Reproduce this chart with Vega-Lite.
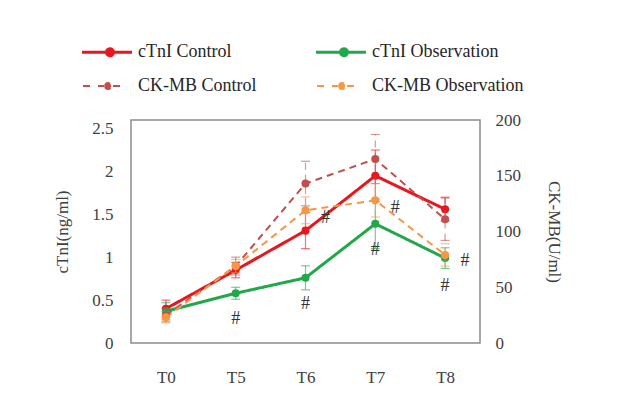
{
  "$schema": "https://vega.github.io/schema/vega-lite/v6.json",
  "width": 349,
  "height": 223,
  "autosize": {"type": "none"},
  "padding": {"left": 131, "top": 120, "right": 141, "bottom": 67},
  "background": "white",
  "config": {
    "font": "Liberation Serif",
    "view": {"stroke": "#8c8c8c", "strokeWidth": 1.5},
    "axis": {"labelFont": "Liberation Serif", "titleFont": "Liberation Serif", "labelColor": "#404040", "titleColor": "#404040", "labelFontSize": 17, "titleFontSize": 17, "titleFontWeight": "normal", "ticks": false, "domain": false, "grid": false},
    "legend": {"labelFont": "Liberation Serif"}
  },
  "datasets": {
    "ctni": [
      {"time": "T0", "series": "cTnI Control", "value": 0.40, "lo": 0.30, "hi": 0.50},
      {"time": "T5", "series": "cTnI Control", "value": 0.85, "lo": 0.76, "hi": 0.94},
      {"time": "T6", "series": "cTnI Control", "value": 1.31, "lo": 1.10, "hi": 1.52},
      {"time": "T7", "series": "cTnI Control", "value": 1.95, "lo": 1.65, "hi": 2.25},
      {"time": "T8", "series": "cTnI Control", "value": 1.56, "lo": 1.42, "hi": 1.70},
      {"time": "T0", "series": "cTnI Observation", "value": 0.37, "lo": 0.27, "hi": 0.47},
      {"time": "T5", "series": "cTnI Observation", "value": 0.58, "lo": 0.51, "hi": 0.65},
      {"time": "T6", "series": "cTnI Observation", "value": 0.76, "lo": 0.62, "hi": 0.90},
      {"time": "T7", "series": "cTnI Observation", "value": 1.39, "lo": 1.10, "hi": 1.68},
      {"time": "T8", "series": "cTnI Observation", "value": 0.99, "lo": 0.87, "hi": 1.11}
    ],
    "ckmb": [
      {"time": "T0", "series": "CK-MB Control", "value": 25, "lo": 19, "hi": 31},
      {"time": "T5", "series": "CK-MB Control", "value": 69, "lo": 61, "hi": 77},
      {"time": "T6", "series": "CK-MB Control", "value": 143, "lo": 123, "hi": 163},
      {"time": "T7", "series": "CK-MB Control", "value": 165, "lo": 143, "hi": 187},
      {"time": "T8", "series": "CK-MB Control", "value": 111, "lo": 92, "hi": 130},
      {"time": "T0", "series": "CK-MB Observation", "value": 23, "lo": 18, "hi": 28},
      {"time": "T5", "series": "CK-MB Observation", "value": 69, "lo": 63, "hi": 75},
      {"time": "T6", "series": "CK-MB Observation", "value": 119, "lo": 107, "hi": 131},
      {"time": "T7", "series": "CK-MB Observation", "value": 128, "lo": 113, "hi": 143},
      {"time": "T8", "series": "CK-MB Observation", "value": 79, "lo": 69, "hi": 89}
    ],
    "hash": [
      {"time": "T5", "pos": "below", "value": 0.28},
      {"time": "T6", "pos": "below", "value": 0.45},
      {"time": "T6", "pos": "right", "value": 1.46},
      {"time": "T7", "pos": "right", "value": 1.57},
      {"time": "T7", "pos": "below", "value": 1.09},
      {"time": "T8", "pos": "below", "value": 0.67},
      {"time": "T8", "pos": "right", "value": 0.96}
    ]
  },
  "layer": [
    {
      "layer": [
        {
          "data": {"name": "ctni"},
          "mark": {"type": "errorbar", "ticks": {"size": 9, "strokeWidth": 1.2}, "thickness": 1.2, "opacity": 0.6},
          "encoding": {
            "y": {"field": "lo", "type": "quantitative", "scale": {"domain": [0, 2.5]}, "axis": {"orient": "left", "values": [0, 0.5, 1, 1.5, 2, 2.5], "format": "~g", "title": "cTnI(ng/ml)", "labelPadding": 18, "titlePadding": 20}},
            "y2": {"field": "hi"},
            "color": {"field": "series", "type": "nominal"}
          }
        },
        {
          "data": {"name": "ctni"},
          "mark": {"type": "line", "strokeWidth": 3},
          "encoding": {
            "y": {"field": "value", "type": "quantitative"},
            "color": {"field": "series", "type": "nominal"},
            "strokeDash": {"field": "series", "type": "nominal"}
          }
        },
        {
          "data": {"name": "ctni"},
          "mark": {"type": "point", "filled": true, "size": 65, "opacity": 1},
          "encoding": {
            "y": {"field": "value", "type": "quantitative"},
            "color": {"field": "series", "type": "nominal"}
          }
        },
        {
          "data": {"name": "hash"},
          "transform": [{"filter": "datum.pos === 'below'"}],
          "mark": {"type": "text", "text": "#", "fontSize": 18, "font": "Liberation Serif", "baseline": "middle"},
          "encoding": {"y": {"field": "value", "type": "quantitative"}, "color": {"value": "#333333"}, "strokeDash": null}
        },
        {
          "data": {"name": "hash"},
          "transform": [{"filter": "datum.pos === 'right'"}],
          "mark": {"type": "text", "text": "#", "fontSize": 18, "font": "Liberation Serif", "baseline": "middle", "dx": 20},
          "encoding": {"y": {"field": "value", "type": "quantitative"}, "color": {"value": "#333333"}, "strokeDash": null}
        }
      ]
    },
    {
      "layer": [
        {
          "data": {"name": "ckmb"},
          "mark": {"type": "errorbar", "ticks": {"size": 9, "strokeWidth": 1.2}, "thickness": 1.2, "opacity": 0.6},
          "encoding": {
            "y": {"field": "lo", "type": "quantitative", "scale": {"domain": [0, 200]}, "axis": {"orient": "right", "values": [0, 50, 100, 150, 200], "title": "CK-MB(U/ml)", "labelPadding": 15, "titlePadding": 24}},
            "y2": {"field": "hi"},
            "color": {"field": "series", "type": "nominal"}
          }
        },
        {
          "data": {"name": "ckmb"},
          "mark": {"type": "line", "strokeWidth": 2},
          "encoding": {
            "y": {"field": "value", "type": "quantitative"},
            "color": {"field": "series", "type": "nominal"},
            "strokeDash": {"field": "series", "type": "nominal"}
          }
        },
        {
          "data": {"name": "ckmb"},
          "mark": {"type": "point", "filled": true, "size": 65, "opacity": 1},
          "encoding": {
            "y": {"field": "value", "type": "quantitative"},
            "color": {"field": "series", "type": "nominal"}
          }
        }
      ]
    }
  ],
  "resolve": {"scale": {"y": "independent"}},
  "encoding": {
    "x": {"field": "time", "type": "ordinal", "sort": ["T0", "T5", "T6", "T7", "T8"], "scale": {"type": "point", "padding": 0.5},
      "axis": {"title": null, "labelAngle": 0, "labelPadding": 26, "labelFontSize": 17}},
    "color": {"field": "series", "type": "nominal",
      "scale": {"domain": ["cTnI Control", "cTnI Observation", "CK-MB Control", "CK-MB Observation"], "range": ["#e8161e", "#21a84a", "#c0504d", "#f79646"]},
      "legend": {
        "title": null, "orient": "none", "legendX": -48, "legendY": -77, "columns": 2, "direction": "horizontal",
        "columnPadding": 53, "rowPadding": 15, "labelFontSize": 18, "labelFont": "Liberation Serif", "labelColor": "#262626",
        "symbolType": "M-1,0L4,0",
        "symbolSize": 400, "labelOffset": 37, "symbolStrokeWidth": 3,
        "encode": {"symbols": {"update": {
          "fill": {"scale": "color", "field": "value"},
          "strokeDash": {"value": [1, 0]},
          "shape": {"signal": "indexof(['CK-MB Control','CK-MB Observation'], datum.value) >= 0 ? 'M-0.9,0L-0.1,0M0.6,0L1.2,0M2.1,0L3.0,0M1.32,0A0.3,0.3 0 1,0 1.92,0A0.3,0.3 0 1,0 1.32,0' : 'M-1,0L4,0M1.45,0A0.35,0.35 0 1,0 2.15,0A0.35,0.35 0 1,0 1.45,0'"},
          "strokeWidth": {"signal": "indexof(['CK-MB Control','CK-MB Observation'], datum.value) >= 0 ? 2 : 3"}
        }}}
      }
    },
    "strokeDash": {"field": "series", "type": "nominal",
      "scale": {"domain": ["cTnI Control", "cTnI Observation", "CK-MB Control", "CK-MB Observation"], "range": [[1, 0], [1, 0], [7, 5], [7, 5]]}}
  }
}
